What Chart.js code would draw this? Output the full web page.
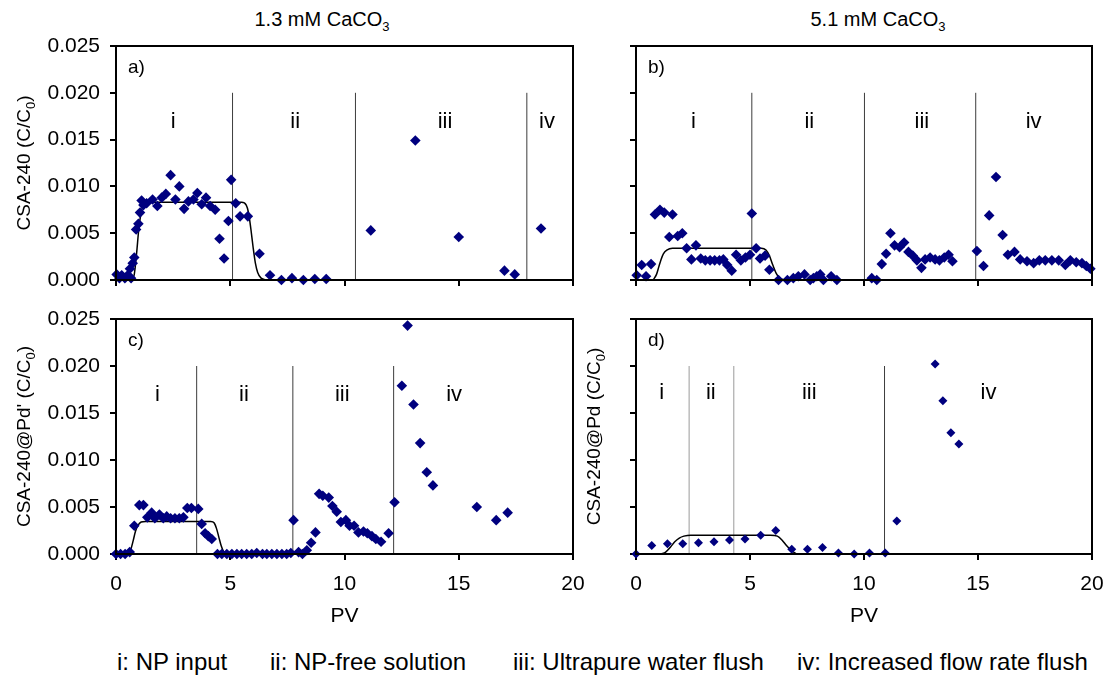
<!DOCTYPE html>
<html lang="en">
<head>
  <meta charset="UTF-8">
  <title>CSA-240 breakthrough</title>
  <script src="https://cdn.jsdelivr.net/npm/chart.js@4.4.1/dist/chart.umd.min.js"></script>
  <style>
    body { margin: 0; background: #fff; font-family: "Liberation Sans", Arial, sans-serif; }
    #wrap { position: relative; width: 1111px; height: 679px; background: #fff; overflow: hidden; }
    canvas { position: absolute; }
    .head { position: absolute; top: 8px; width: 240px; text-align: center; font-size: 20px; color: #000; }
    .head sub { font-size: 13px; }
    .leg { position: absolute; top: 648px; font-size: 24px; color: #000; white-space: nowrap; }
  </style>
</head>
<body>
<div id="wrap">
  <div class="head" style="left:202px">1.3 mM CaCO<sub>3</sub></div>
  <div class="head" style="left:758px">5.1 mM CaCO<sub>3</sub></div>
  <canvas id="pa" width="580" height="300" style="left:0;top:0"></canvas>
  <canvas id="pb" width="531" height="300" style="left:580px;top:0"></canvas>
  <canvas id="pc" width="600" height="330" style="left:0;top:300px"></canvas>
  <canvas id="pd" width="531" height="330" style="left:580px;top:300px"></canvas>
  <div class="leg" style="left:117px">i: NP input</div>
  <div class="leg" style="left:270px">ii: NP-free solution</div>
  <div class="leg" style="left:513px">iii: Ultrapure water flush</div>
  <div class="leg" style="left:797px">iv: Increased flow rate flush</div>
</div>
<script>
// ---- data ----
const xTicks = [0, 5, 10, 15, 20];
const yTicks = [0, 0.005, 0.01, 0.015, 0.02, 0.025];
const phaseNames = ['i', 'ii', 'iii', 'iv'];
const divTop = 0.02;

// a) CSA-240, 1.3 mM
const aX = [0.03, 0.15, 0.25, 0.39, 0.51, 0.66, 0.61, 0.73, 0.8, 0.88, 0.98, 1.05, 1.12, 1.2, 1.34, 1.6, 1.81, 2.0, 2.18, 2.39, 2.6, 2.77, 2.98, 3.17, 3.39, 3.56, 3.75, 3.94, 4.12, 4.34,
  4.53, 4.73, 4.92, 5.04, 5.24, 5.43, 5.77, 6.28, 6.74, 7.24, 7.7, 8.2, 8.7, 9.2, 11.15, 13.1, 15.0, 17.0, 17.45, 18.6];
const aY = [0.0006, 0.0002, 0.0005, 0.0002, 0.0005, 0.0002, 0.0012, 0.0018, 0.0024, 0.0054, 0.006, 0.0072, 0.0085, 0.008, 0.0082, 0.0086, 0.0079, 0.0088, 0.0092, 0.0112, 0.0086, 0.01, 0.0076, 0.0084, 0.0086, 0.0093, 0.0081, 0.0088, 0.0079, 0.0075,
  0.0044, 0.0023, 0.0063, 0.0107, 0.0082, 0.0068, 0.0068, 0.0028, 0.0005, 0, 0.0002, 0, 0.0001, 0.0001, 0.0053, 0.0149, 0.0046, 0.001, 0.0006, 0.0055];
const aFitX = [0.7, 0.8, 0.9, 1.0, 1.1, 1.2, 1.35, 1.6, 5.5, 5.7, 5.8, 5.9, 6.0, 6.1, 6.2, 6.35, 6.6];
const aFitY = [0, 0.0006, 0.0028, 0.0055, 0.0072, 0.008, 0.0083, 0.0083, 0.0083, 0.008, 0.0072, 0.0055, 0.0035, 0.0018, 0.0008, 0.0002, 0];
const aDiv = [5.1, 10.48, 17.98];
const aLabX = [2.5, 7.84, 14.4, 18.86];

// b) CSA-240, 5.1 mM
const bX = [0.03, 0.25, 0.44, 0.66, 0.83, 1.05, 1.24, 1.6, 1.46, 1.83, 2.03, 2.22, 2.43, 2.63, 2.84, 3.04, 3.25, 3.45, 3.66, 3.83, 4.0, 4.2, 4.39, 4.6, 4.8, 5.0, 5.08, 5.27, 5.44, 5.66, 5.85,
  6.25, 6.64, 6.9, 7.12, 7.39, 7.64, 7.78, 7.93, 8.08, 8.22, 8.56, 8.81,
  10.34, 10.56, 10.78, 10.97, 11.16, 11.34, 11.56, 11.76, 11.95, 12.14, 12.32, 12.52, 12.68, 12.9, 13.12, 13.31, 13.52, 13.71, 13.88,
  14.95, 15.24, 15.49, 15.79, 16.08, 16.31, 16.6, 16.85, 17.15, 17.44, 17.69, 17.95, 18.24, 18.54, 18.83, 19.05, 19.31, 19.56, 19.75, 19.93];
const bY = [0.0005, 0.0016, 0.0004, 0.0017, 0.007, 0.0075, 0.0072, 0.007, 0.0046, 0.0047, 0.005, 0.0034, 0.0022, 0.0037, 0.0023, 0.0021, 0.0021, 0.0021, 0.0021, 0.0022, 0.0016, 0.001, 0.0027, 0.0021, 0.0024, 0.0027, 0.0071, 0.0034, 0.0023, 0.0026, 0.0011,
  0, 0, 0.0002, 0.0004, 0.0006, 0, 0.0002, 0.0004, 0.0006, 0, 0.0004, 0,
  0.0002, 0, 0.0017, 0.0028, 0.005, 0.0037, 0.0035, 0.004, 0.003, 0.0026, 0.0021, 0.0013, 0.0022, 0.0024, 0.0022, 0.0021, 0.0024, 0.0027, 0.002,
  0.0031, 0.0015, 0.0069, 0.011, 0.0048, 0.0027, 0.003, 0.0022, 0.002, 0.0018, 0.0021, 0.0021, 0.0021, 0.0021, 0.0016, 0.0021, 0.0019, 0.0018, 0.0015, 0.0012];
const bFitX = [0.75, 0.9, 1.0, 1.1, 1.2, 1.35, 1.6, 5.5, 5.7, 5.85, 6.0, 6.15, 6.3, 6.5];
const bFitY = [0, 0.0006, 0.0014, 0.0022, 0.0028, 0.0032, 0.0034, 0.0034, 0.0032, 0.0026, 0.0016, 0.0007, 0.0002, 0];
const bDiv = [5.08, 10.02, 14.9];
const bLabX = [2.52, 7.6, 12.54, 17.44];

// c) CSA-240@Pd', 1.3 mM
const cX = [0, 0.2, 0.4, 0.6, 0.8, 1.02, 1.2, 1.37, 1.56, 1.7, 1.9, 2.07, 2.22, 2.39, 2.58, 2.77, 2.95, 3.12, 3.3, 3.6, 3.75, 3.9, 4.04, 4.19,
  4.44, 4.63, 4.85, 5.07, 5.29, 5.5, 5.72, 5.94, 6.16, 6.41, 6.6, 6.82, 7.04, 7.26, 7.47, 7.65,
  7.77, 7.99, 8.16, 8.35, 8.54, 8.73, 8.89, 9.05, 9.31, 9.47, 9.66, 9.84, 10.06, 10.22, 10.42, 10.61, 10.83, 11.0, 11.2, 11.37, 11.6, 11.93,
  12.19, 12.51, 12.76, 13.02, 13.31, 13.6, 13.87, 15.79, 16.64, 17.14];
const cY = [0, 0, 0, 0.0002, 0.003, 0.0052, 0.0052, 0.0039, 0.0044, 0.0038, 0.0042, 0.0038, 0.004, 0.0038, 0.0038, 0.0038, 0.0039, 0.0049, 0.0049, 0.0048, 0.0032, 0.0022, 0.0019, 0.0016,
  0, 0, 0, 0, 0, 0, 0, 0, 0.0001, 0, 0, 0, 0, 0, 0, 0.0001,
  0.0036, 0.0002, 0, 0.0004, 0.0012, 0.0023, 0.0064, 0.0062, 0.006, 0.0051, 0.0045, 0.0034, 0.0036, 0.003, 0.003, 0.0023, 0.0024, 0.0022, 0.0019, 0.0016, 0.0013, 0.0022,
  0.0055, 0.0179, 0.0243, 0.0159, 0.0118, 0.0087, 0.0073, 0.005, 0.0036, 0.0044];
const cFitX = [0.55, 0.65, 0.75, 0.85, 0.95, 1.1, 1.3, 4.15, 4.3, 4.4, 4.5, 4.6, 4.7, 4.85];
const cFitY = [0, 0.0005, 0.0014, 0.0024, 0.003, 0.0034, 0.00347, 0.00347, 0.0033, 0.0027, 0.0018, 0.0009, 0.0003, 0];
const cDiv = [3.53, 7.74, 12.15];
const cLabX = [1.81, 5.6, 9.9, 14.8];

// d) CSA-240@Pd, 5.1 mM
const dX = [0, 0.69, 1.38, 2.05, 2.74, 3.42, 4.1, 4.78, 5.47, 6.13, 6.83, 7.52, 8.18, 8.88, 9.57, 10.24, 10.93, 11.44, 13.12, 13.46, 13.81, 14.16];
const dY = [0, 0.0009, 0.0011, 0.0011, 0.0012, 0.0013, 0.0015, 0.0016, 0.002, 0.0025, 0.0005, 0.0005, 0.0007, 0.0001, 0, 0.0001, 0.0001, 0.0035, 0.0202, 0.0163, 0.0129, 0.0117];
const dFitX = [1.1, 1.3, 1.5, 1.7, 1.9, 2.1, 2.4, 5.9, 6.2, 6.4, 6.6, 6.8, 7.05];
const dFitY = [0, 0.0002, 0.0007, 0.0013, 0.0017, 0.0019, 0.002, 0.002, 0.0019, 0.0015, 0.0009, 0.0004, 0];
const dDiv = [2.33, 4.29, 10.9];
const dLabX = [1.13, 3.28, 7.6, 15.46];

const FONT = '"Liberation Sans", Arial, sans-serif';
const NAVY = '#00007f';

function pts(xs, ys) { return xs.map((x, i) => ({ x: x, y: ys[i] })); }

// draws the frame, panel letter, phase names and the rotated y title (with subscript)
const decor = {
  id: 'decor',
  afterDraw(chart, args, o) {
    const { ctx, chartArea: ca, scales } = chart;
    ctx.save();
    ctx.strokeStyle = '#000';
    ctx.lineWidth = 2;
    ctx.strokeRect(ca.left, ca.top, ca.right - ca.left, ca.bottom - ca.top);
    ctx.fillStyle = '#000';
    ctx.font = '19px ' + FONT;
    ctx.textBaseline = 'middle';
    ctx.textAlign = 'left';
    ctx.fillText(o.letter, ca.left + 12, ca.top + 22);
    ctx.font = '22px ' + FONT;
    ctx.textAlign = 'center';
    o.labX.forEach((x, i) => {
      ctx.fillText(phaseNames[i], scales.x.getPixelForValue(x), scales.y.getPixelForValue(o.labY));
    });
    if (o.yTitle) {
      const f = 19, fs = 13;
      ctx.translate(o.titleX, (ca.top + ca.bottom) / 2);
      ctx.rotate(-Math.PI / 2);
      ctx.textAlign = 'left';
      ctx.textBaseline = 'middle';
      ctx.font = f + 'px ' + FONT;
      const w1 = ctx.measureText(o.yTitle).width;
      const w3 = ctx.measureText(')').width;
      ctx.font = fs + 'px ' + FONT;
      const w2 = ctx.measureText('0').width;
      let x = -(w1 + w2 + w3) / 2;
      ctx.font = f + 'px ' + FONT;
      ctx.fillText(o.yTitle, x, 0);
      x += w1;
      ctx.font = fs + 'px ' + FONT;
      ctx.fillText('0', x, 6);
      x += w2;
      ctx.font = f + 'px ' + FONT;
      ctx.fillText(')', x, 0);
    }
    ctx.restore();
  }
};

function panel(id, o) {
  const datasets = [];
  o.div.forEach((d, i) => {
    datasets.push({
      data: pts([d, d], [0, divTop]), showLine: true, pointRadius: 0,
      borderColor: (o.divColors && o.divColors[i]) || '#3c3c3c', borderWidth: 1, order: 3
    });
  });
  datasets.push({
    data: pts(o.fitX, o.fitY), showLine: true, pointRadius: 0, borderColor: '#000',
    borderWidth: 1.5, cubicInterpolationMode: 'monotone', order: 2
  });
  datasets.push({
    data: pts(o.x, o.y), pointStyle: 'rectRot', pointRadius: o.r || 5.3,
    backgroundColor: NAVY, borderColor: NAVY, borderWidth: 0, clip: false, order: 1
  });
  return new Chart(document.getElementById(id), {
    type: 'scatter',
    data: { datasets: datasets },
    plugins: [decor],
    options: {
      responsive: false,
      animation: false,
      layout: { padding: { top: o.pad[0], right: o.pad[1], bottom: 0, left: 0 } },
      plugins: {
        legend: { display: false },
        tooltip: { enabled: false },
        decor: { letter: o.letter, labX: o.labX, labY: o.labY || 0.0169, yTitle: o.yTitle, titleX: o.titleX }
      },
      scales: {
        x: {
          type: 'linear', min: 0, max: 20,
          afterBuildTicks: s => { s.ticks = xTicks.map(v => ({ value: v })); },
          ticks: { display: o.xLabels, font: { size: 21, family: FONT }, color: '#000', padding: 12, maxRotation: 0 },
          grid: { drawOnChartArea: false, drawTicks: true, tickLength: 6, color: '#000', lineWidth: 2 },
          border: { color: '#000', width: 2 },
          title: { display: o.xLabels, text: 'PV', font: { size: 21, family: FONT }, color: '#000', padding: { top: 0, bottom: 1 } },
          afterFit: s => { s.height = o.xH; s.paddingLeft = 0; s.paddingRight = 0; }
        },
        y: {
          min: 0, max: 0.025,
          afterBuildTicks: s => { s.ticks = yTicks.map(v => ({ value: v })); },
          ticks: { display: o.yLabels, font: { size: 21, family: FONT }, color: '#000', padding: 10, callback: v => v.toFixed(3) },
          grid: { drawOnChartArea: false, drawTicks: true, tickLength: 6, color: '#000', lineWidth: 2 },
          border: { color: '#000', width: 2 },
          afterFit: s => { s.width = o.yW; s.paddingTop = 0; s.paddingBottom = 0; }
        }
      }
    }
  });
}

panel('pa', { x: aX, y: aY, fitX: aFitX, fitY: aFitY, div: aDiv, labX: aLabX, letter: 'a)',
  yTitle: 'CSA-240 (C/C', titleX: 25, xLabels: false, yLabels: true, yW: 116, xH: 20, pad: [46, 7] });
panel('pb', { x: bX, y: bY, fitX: bFitX, fitY: bFitY, div: bDiv, labX: bLabX, letter: 'b)',
  xLabels: false, yLabels: false, yW: 56, xH: 20, pad: [46, 19] });
panel('pc', { x: cX, y: cY, fitX: cFitX, fitY: cFitY, div: cDiv, labX: cLabX, letter: 'c)',
  yTitle: "CSA-240@Pd' (C/C", titleX: 25, xLabels: true, yLabels: true, yW: 116, xH: 76, pad: [19, 27] });
panel('pd', { x: dX, y: dY, fitX: dFitX, fitY: dFitY, div: dDiv, labX: dLabX, letter: 'd)', labY: 0.0171,
  divColors: ['#9a9a9a', '#9a9a9a', '#3c3c3c'], r: 4.5,
  yTitle: 'CSA-240@Pd (C/C', titleX: 15, xLabels: true, yLabels: false, yW: 56, xH: 76, pad: [19, 19] });
</script>
</body>
</html>
